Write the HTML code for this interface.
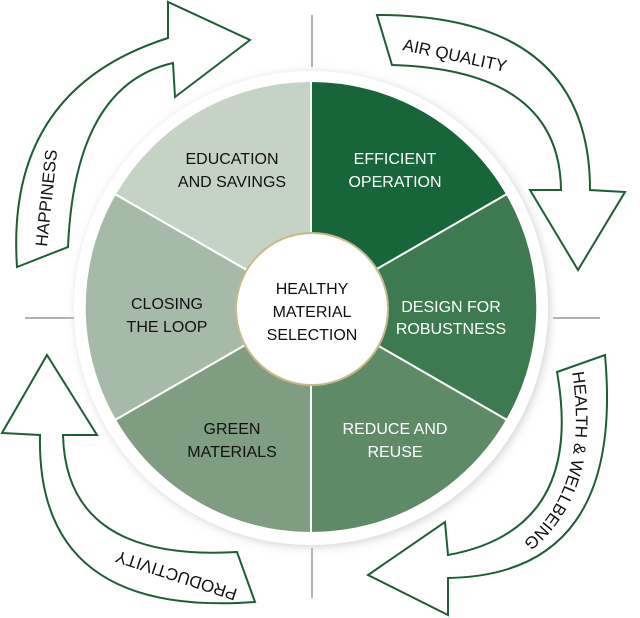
<!DOCTYPE html>
<html><head><meta charset="utf-8"><style>
html,body{margin:0;padding:0;background:#fff;}
svg{display:block;}
text{font-family:"Liberation Sans",sans-serif;}
</style></head><body>
<svg width="640" height="618" viewBox="0 0 640 618" xmlns="http://www.w3.org/2000/svg">
<defs>
<filter id="sh" x="-20%" y="-20%" width="140%" height="140%"><feGaussianBlur stdDeviation="5"/></filter>
</defs>
<g stroke="#999" stroke-width="1.5">
<line x1="25" y1="318" x2="75" y2="318"/><line x1="553" y1="318" x2="600" y2="318"/>
<line x1="312" y1="15" x2="312" y2="67"/><line x1="312" y1="548" x2="312" y2="598"/>
</g>
<circle cx="313" cy="310" r="236" fill="#ccc" filter="url(#sh)"/>
<circle cx="311" cy="308" r="237" fill="#fff"/>
<g transform="translate(311,307)" stroke="#fff" stroke-width="2">
<path d="M0,0 L0,-226 A226,226 0 0 1 196,-113 Z" fill="#176639"/>
<path d="M0,0 L196,-113 A226,226 0 0 1 196,113 Z" fill="#3d7a4f"/>
<path d="M0,0 L196,113 A226,226 0 0 1 0,226 Z" fill="#5f8a66"/>
<path d="M0,0 L0,226 A226,226 0 0 1 -196,113 Z" fill="#7e9d81"/>
<path d="M0,0 L-196,113 A226,226 0 0 1 -196,-113 Z" fill="#a5bba7"/>
<path d="M0,0 L-196,-113 A226,226 0 0 1 0,-226 Z" fill="#c5d3c5"/>
</g>
<circle cx="312" cy="309" r="76" fill="#fff" stroke="#c9b98a" stroke-width="2"/>
<g font-size="16" text-anchor="middle">
<text x="312" y="294" fill="#111">HEALTHY</text>
<text x="312" y="317" fill="#111">MATERIAL</text>
<text x="312" y="340" fill="#111">SELECTION</text>
<text x="232" y="164" fill="#111">EDUCATION</text>
<text x="232" y="187" fill="#111">AND SAVINGS</text>
<text x="395" y="164" fill="#fff">EFFICIENT</text>
<text x="395" y="187" fill="#fff">OPERATION</text>
<text x="451" y="312" fill="#fff">DESIGN FOR</text>
<text x="451" y="334" fill="#fff">ROBUSTNESS</text>
<text x="395" y="434" fill="#fff">REDUCE AND</text>
<text x="395" y="457" fill="#fff">REUSE</text>
<text x="232" y="434" fill="#111">GREEN</text>
<text x="232" y="457" fill="#111">MATERIALS</text>
<text x="167" y="309" fill="#111">CLOSING</text>
<text x="167" y="332" fill="#111">THE LOOP</text>
</g>
<g fill="#fff" stroke="#1d5e35" stroke-width="2" stroke-linejoin="miter">
<path d="M17,267 Q5,90 168,38 L168,2 L250,40 L175,97 L173,63 Q75,85 68,247 Z"/>
<path d="M377,15 Q590,15 590,190 L625,192 L578,270 L530,190 L561,190 Q560,70 392,65 Z"/>
<path d="M557,372 L605,355 Q625,575 448,578 L448,615 L368,575 L445,522 L448,555 Q585,530 557,372 Z"/>
<path d="M47,355 L97,435 L63,435 Q66,562 237,552 L255,602 Q36,618 40,435 L2,433 Z"/>
</g>
<g font-size="17" fill="#111">
<text transform="translate(47,247) rotate(-84)">HAPPINESS</text>
<text transform="translate(402,50) rotate(12)">AIR QUALITY</text>
<text transform="translate(178,570) rotate(198)" text-anchor="middle">PRODUCTIVITY</text>
</g>
<path id="hw" d="M572,372 Q592,500 508,553" fill="none"/>
<text font-size="17" fill="#111"><textPath href="#hw">HEALTH &amp; WELLBEING</textPath></text>
</svg>
</body></html>
